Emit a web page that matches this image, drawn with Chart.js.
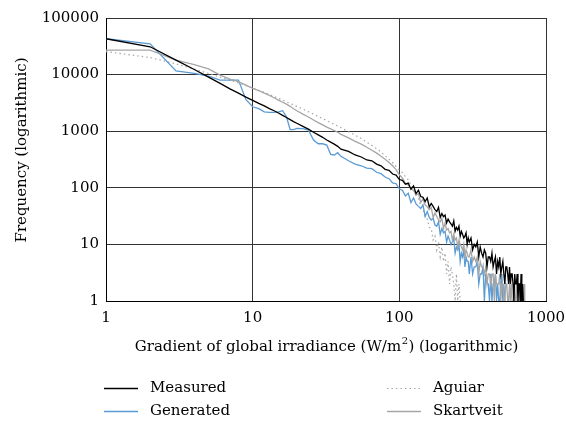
<!DOCTYPE html>
<html>
<head>
<meta charset="utf-8">
<script src="https://cdn.jsdelivr.net/npm/chart.js@4.4.0/dist/chart.umd.min.js"></script>
<style>
  html, body { margin: 0; padding: 0; background: #fff; }
  #wrap { width: 566px; height: 422px; }
</style>
</head>
<body>
<div id="wrap"><canvas id="chart" width="566" height="422"></canvas></div>
<script>
// bin centres of the irradiance gradient (W/m2)
const binCentres = [
  1, 2, 3, 4, 5, 6, 7, 8, 9, 10, 11, 12, 13, 14, 15, 16, 17, 18, 19, 20,
  22, 24, 26, 28, 30, 32, 34, 36, 38, 40,
  45, 50, 55, 60, 65, 70, 75, 80, 85, 90, 95, 100,
  105, 110, 115, 120, 125, 130, 135, 140, 145, 150, 155, 160, 165, 170, 175, 180, 185, 190, 195, 200,
  205, 210, 215, 220, 225, 230, 235, 240, 245, 250, 255, 260, 265, 270, 275, 280, 285, 290, 295, 300,
  308, 316, 324, 332, 340, 348, 356, 364, 372, 380, 388, 396, 404, 412, 420, 428, 436, 444, 452, 460,
  468, 476, 484, 492, 500, 508, 516, 524, 532, 540, 548, 556, 564, 572, 580, 588, 596, 604, 612, 620,
  628, 636, 644, 652, 660, 668, 676, 684, 692, 700, 708, 716
];

const measured = [
  43000, 31000, 18000, 12300, 9000, 7000, 5600, 4700, 4000, 3500, 3100, 2800, 2500, 2300, 2100, 1900, 1750, 1600, 1480, 1380,
  1220, 1090, 960, 860, 780, 700, 640, 590, 540, 480,
  440, 380, 350, 310, 300, 262, 245, 212, 204, 175, 168, 140,
  136, 116, 121, 94, 108, 79, 91, 70, 68, 57, 66, 46, 53, 47, 41, 38, 45, 30, 35, 31,
  33, 24, 28, 25, 23, 21, 26, 17, 20, 18, 21, 14, 17, 15, 13, 14, 16, 10, 13, 11,
  13, 8, 10, 9, 11, 6, 9, 7, 6, 8, 7, 4, 6, 6, 5, 7, 4, 5, 6, 3,
  5, 4, 6, 3, 4, 5, 3, 2, 4, 4, 3, 2, 4, 2, 3, 3, 2, 1, 3, 2,
  2, 3, 1, 2, 2, 1, 3, 1, 2, 1, null, null
];

const generated = [
  43000, 35000, 11600, 10500, 9400, 8000, 8000, 8000, 3600, 2700, 2500, 2200, 2150, 2150, 2200, 2300, 1800, 1070, 1070, 1120,
  1110, 1050, 700, 600, 600, 570, 390, 380, 417, 360,
  300, 262, 245, 222, 218, 188, 178, 155, 145, 122, 118, 96,
  90, 72, 80, 55, 66, 52, 47, 43, 50, 31, 38, 30, 27, 29, 22, 21, 25, 15, 19, 16,
  17, 11, 14, 12, 10, 11, 13, 7, 9, 8, 10, 5, 7, 6, 8, 4, 6, 5, 5, 3,
  6, 3, 4, 4, 5, 2, 3, 3, 4, 1, 3, 2, 2, 1, 3, 1, 2, 2, 3, 1,
  2, 1, 1, 2, 3, 1, 2, 1, null, null, null, null, null, null, null, null, null, null, null, null,
  null, null, null, null, null, null, null, null, null, null, null, null
];

const aguiar = [
  25500, 20000, 15500, 12500, 10500, 9000, 8000, 7100, 6400, 5800, 5300, 4850, 4450, 4100, 3800, 3550, 3300, 3100, 2900, 2750,
  2450, 2200, 2000, 1820, 1670, 1540, 1420, 1320, 1230, 1150,
  980, 850, 740, 640, 560, 490, 430, 370, 320, 280, 240, 205,
  185, 158, 138, 110, 95, 73, 64, 47, 42, 30, 28, 20, 19, 12, 14, 8, 11, 6, 9, 5,
  7, 3, 5, 2, 4, 3, 2, 1, 3, 1, 2, 1, 1, 1, null, null, null, null, null, null,
  null, null, null, null, null, null, null, null, null, null, null, null, null, null, null, null, null, null, null, null,
  null, null, null, null, null, null, null, null, null, null, null, null, null, null, null, null, null, null, null, null,
  null, null, null, null, null, null, null, null, null, null, null, null
];

const skartveit = [
  27000, 27000, 18000, 15000, 12600, 9800, 8300, 7500, 6500, 5700, 5200, 4700, 4300, 3900, 3550, 3250, 3000, 2750, 2500, 2300,
  2000, 1780, 1580, 1420, 1290, 1180, 1100, 1030, 960, 880,
  760, 660, 590, 520, 460, 410, 360, 320, 280, 245, 210, 170,
  148, 120, 112, 96, 90, 75, 79, 55, 64, 50, 46, 41, 45, 30, 36, 31, 27, 25, 29, 19,
  24, 18, 19, 16, 17, 12, 15, 12, 13, 9, 12, 10, 9, 8, 10, 6, 8, 7, 6, 6,
  8, 5, 6, 5, 6, 3, 5, 4, 4, 3, 4, 2, 3, 3, 2, 3, 3, 1, 3, 2,
  2, 2, 3, 1, 2, 2, 1, 1, 2, 2, 1, 1, 2, 1, 2, 1, 1, 2, 1, 1,
  2, 1, 1, 1, 2, 1, 1, 2, 1, 1, 2, 1
];

const xTicks = [1, 10, 100, 1000];
const yTicks = [1, 10, 100, 1000, 10000, 100000];
const xTitle = ['Gradient of global irradiance (W/m', '2', ') (logarithmic)'];
const yTitle = 'Frequency (logarithmic)';

const FONT = '"DejaVu Serif", serif';

function pts(values) {
  return binCentres.map((x, i) => ({ x: x, y: values[i] }));
}

// axis titles (with a real superscript) and the two-column legend
const extras = {
  id: 'extras',
  afterDraw(chart) {
    const ctx = chart.ctx;
    const area = chart.chartArea;
    ctx.save();
    ctx.fillStyle = '#000';
    ctx.textBaseline = 'middle';
    ctx.textAlign = 'left';

    ctx.font = '15px ' + FONT;
    const wa = ctx.measureText(xTitle[0]).width;
    const wb = ctx.measureText(xTitle[2]).width;
    ctx.font = '10px ' + FONT;
    const ws = ctx.measureText(xTitle[1]).width;
    let x = (area.left + area.right) / 2 - (wa + ws + wb) / 2;
    const ty = 347;
    ctx.font = '15px ' + FONT;
    ctx.fillText(xTitle[0], x, ty);
    x += wa;
    ctx.font = '10px ' + FONT;
    ctx.fillText(xTitle[1], x + 0.5, ty - 6);
    x += ws + 1;
    ctx.font = '15px ' + FONT;
    ctx.fillText(xTitle[2], x, ty);

    ctx.save();
    ctx.translate(22, 150);
    ctx.rotate(-Math.PI / 2);
    ctx.textAlign = 'center';
    ctx.fillText(yTitle, 0, 0);
    ctx.restore();

    const slots = [[104, 388], [104, 411], [387, 388], [387, 411]];
    chart.data.datasets.forEach((ds) => {
      const [lx, ly] = slots[ds.legendSlot];
      ctx.save();
      ctx.strokeStyle = ds.borderColor;
      ctx.lineWidth = ds.borderWidth;
      ctx.setLineDash(ds.borderDash || []);
      ctx.beginPath();
      ctx.moveTo(lx, ly + 0.5);
      ctx.lineTo(lx + 34, ly + 0.5);
      ctx.stroke();
      ctx.restore();
      ctx.fillText(ds.label, lx + 46, ly);
    });
    ctx.restore();
  }
};

new Chart(document.getElementById('chart').getContext('2d'), {
  type: 'line',
  data: {
    datasets: [
      { label: 'Measured', data: pts(measured), borderColor: '#000000', borderWidth: 1.3, legendSlot: 0, order: 0 },
      { label: 'Skartveit', data: pts(skartveit), borderColor: '#a6a6a6', borderWidth: 1.3, legendSlot: 3, order: 1 },
      { label: 'Generated', data: pts(generated), borderColor: '#5b9bd5', borderWidth: 1.3, legendSlot: 1, order: 2 },
      { label: 'Aguiar', data: pts(aguiar), borderColor: '#a6a6a6', borderWidth: 1.2, borderDash: [1.5, 3], legendSlot: 2, order: 3 }
    ]
  },
  options: {
    responsive: false,
    animation: false,
    devicePixelRatio: 1,
    layout: { padding: { top: 18, right: 20, bottom: 0, left: 0 } },
    elements: {
      point: { radius: 0, hoverRadius: 0 },
      line: { tension: 0, fill: false }
    },
    plugins: {
      legend: { display: false },
      tooltip: { enabled: false }
    },
    scales: {
      x: {
        type: 'logarithmic',
        min: 1,
        max: 1000,
        afterBuildTicks: (scale) => { scale.ticks = xTicks.map(v => ({ value: v })); },
        afterFit: (scale) => {
          scale.height = 121;
          scale.paddingLeft = 0;
          scale.paddingRight = 0;
        },
        ticks: {
          autoSkip: false,
          maxRotation: 0,
          padding: 8,
          color: '#000',
          font: { family: FONT, size: 15 },
          callback: (v) => String(v)
        },
        grid: { color: '#333333', lineWidth: 1, drawTicks: false },
        border: { color: '#000000', width: 1 }
      },
      y: {
        type: 'logarithmic',
        min: 1,
        max: 100000,
        afterBuildTicks: (scale) => { scale.ticks = yTicks.map(v => ({ value: v })); },
        afterFit: (scale) => {
          scale.width = 106;
          scale.paddingTop = 0;
          scale.paddingBottom = 0;
        },
        ticks: {
          autoSkip: false,
          padding: 7,
          color: '#000',
          font: { family: FONT, size: 15 },
          callback: (v) => String(v)
        },
        grid: { color: '#333333', lineWidth: 1, drawTicks: false },
        border: { color: '#000000', width: 1 }
      }
    }
  },
  plugins: [extras]
});
</script>
</body>
</html>
